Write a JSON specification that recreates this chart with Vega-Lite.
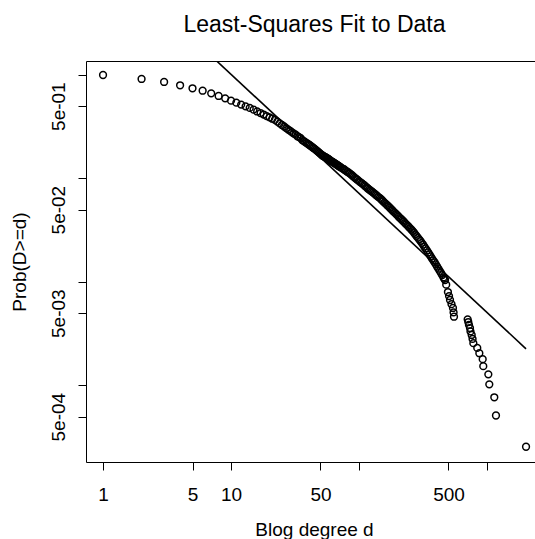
{
  "$schema": "https://vega.github.io/schema/vega-lite/v6.json",
  "width": 449,
  "height": 401,
  "autosize": {"type": "none"},
  "padding": {"left": 86, "top": 61, "right": 0, "bottom": 77},
  "background": "white",
  "config": {
    "view": {"stroke": null},
    "font": "Liberation Sans",
    "axis": {
      "domainColor": "black", "domainWidth": 1, "tickColor": "black", "tickWidth": 1, "tickSize": 8,
      "labelColor": "black", "labelFontSize": 19, "labelFont": "Liberation Sans",
      "titleColor": "black", "titleFontSize": 19, "titleFont": "Liberation Sans", "titleFontWeight": "normal",
      "grid": false, "labelOverlap": false, "labelFlush": false, "labelBound": false
    }
  },
  "title": {
    "text": "Least-Squares Fit to Data",
    "fontSize": 23, "fontWeight": "normal", "font": "Liberation Sans", "color": "black",
    "anchor": "middle", "baseline": "alphabetic", "offset": 6, "dx": 4
  },
  "datasets": {
    "pts": [
      {"d":1,"p":1.0},{"d":2,"p":0.915},{"d":3,"p":0.856},{"d":4,"p":0.795},{"d":5,"p":0.744},
      {"d":6,"p":0.705},{"d":7,"p":0.665},{"d":8,"p":0.627},{"d":9,"p":0.595},{"d":10,"p":0.565},
      {"d":11,"p":0.540},{"d":12,"p":0.518},{"d":13,"p":0.498},{"d":14,"p":0.481},{"d":15,"p":0.462},
      {"d":16,"p":0.444},{"d":17,"p":0.429},{"d":18,"p":0.415},{"d":19,"p":0.401},{"d":20,"p":0.389},
      {"d":21,"p":0.378},{"d":22,"p":0.368},{"d":23,"p":0.354},{"d":24,"p":0.341},{"d":25,"p":0.329},
      {"d":26,"p":0.318},{"d":27,"p":0.307},{"d":28,"p":0.297},{"d":29,"p":0.288},{"d":30,"p":0.279},
      {"d":31,"p":0.2716},{"d":32,"p":0.265},{"d":33,"p":0.2559},{"d":34,"p":0.2507},{"d":35,"p":0.2455},
      {"d":36,"p":0.2350},{"d":37,"p":0.2300},{"d":38,"p":0.2249},{"d":39,"p":0.2201},{"d":40,"p":0.2153},
      {"d":41,"p":0.2107},{"d":42,"p":0.2061},{"d":43,"p":0.2016},{"d":44,"p":0.1972},{"d":45,"p":0.1930},
      {"d":46,"p":0.1888},{"d":47,"p":0.1847},{"d":48,"p":0.1807},{"d":49,"p":0.1768},{"d":50,"p":0.1730},
      {"d":51,"p":0.1695},{"d":52,"p":0.1660},{"d":53,"p":0.1640},{"d":54,"p":0.1620},{"d":55,"p":0.1600},
      {"d":56,"p":0.1579},{"d":57,"p":0.1558},{"d":58,"p":0.1538},{"d":59,"p":0.1510},{"d":60,"p":0.1483},
      {"d":61,"p":0.1465},{"d":62,"p":0.1447},{"d":63,"p":0.1429},{"d":64,"p":0.1412},{"d":65,"p":0.1394},
      {"d":66,"p":0.1377},{"d":67,"p":0.1360},{"d":68,"p":0.1344},{"d":69,"p":0.1327},{"d":70,"p":0.1311},
      {"d":71,"p":0.1295},{"d":72,"p":0.1279},{"d":74,"p":0.1254},{"d":76,"p":0.1230},{"d":77,"p":0.1215},
      {"d":79,"p":0.1186},{"d":81,"p":0.1163},{"d":83,"p":0.1140},{"d":85,"p":0.1114},{"d":87,"p":0.1089},
      {"d":89,"p":0.1063},{"d":91,"p":0.1038},{"d":93,"p":0.1014},{"d":95,"p":0.0991},{"d":97,"p":0.0972},
      {"d":100,"p":0.0944},{"d":102,"p":0.0923},{"d":105,"p":0.0902},{"d":107,"p":0.0881},{"d":110,"p":0.0861},
      {"d":112,"p":0.0840},{"d":115,"p":0.0820},{"d":117,"p":0.0801},{"d":120,"p":0.0783},{"d":123,"p":0.0765},
      {"d":126,"p":0.0748},{"d":129,"p":0.0730},{"d":132,"p":0.0713},{"d":135,"p":0.0697},{"d":138,"p":0.0681},
      {"d":141,"p":0.0665},{"d":145,"p":0.0649},{"d":148,"p":0.0634},{"d":151,"p":0.0619},{"d":154,"p":0.0602},
      {"d":158,"p":0.0585},{"d":162,"p":0.0568},{"d":166,"p":0.0552},{"d":170,"p":0.0537},{"d":174,"p":0.0522},
      {"d":178,"p":0.0507},{"d":182,"p":0.0493},{"d":186,"p":0.0479},{"d":191,"p":0.0466},{"d":195,"p":0.0453},
      {"d":200,"p":0.0440},{"d":204,"p":0.0427},{"d":209,"p":0.0415},{"d":214,"p":0.0404},{"d":219,"p":0.0393},
      {"d":224,"p":0.0382},{"d":229,"p":0.0371},{"d":234,"p":0.0360},{"d":240,"p":0.0350},{"d":245,"p":0.0340},
      {"d":251,"p":0.0330},{"d":257,"p":0.0320},{"d":263,"p":0.0310},{"d":269,"p":0.0299},{"d":275,"p":0.0288},
      {"d":281,"p":0.0278},{"d":288,"p":0.0268},{"d":295,"p":0.0258},{"d":302,"p":0.0249},{"d":309,"p":0.0239},
      {"d":316,"p":0.0230},{"d":323,"p":0.0220},{"d":331,"p":0.0211},{"d":339,"p":0.0202},{"d":347,"p":0.0193},
      {"d":355,"p":0.0185},{"d":363,"p":0.0177},{"d":371,"p":0.0169},{"d":380,"p":0.0162},{"d":389,"p":0.0155},
      {"d":398,"p":0.0148},{"d":407,"p":0.0141},{"d":417,"p":0.01346},{"d":427,"p":0.0128},{"d":437,"p":0.01222},
      {"d":447,"p":0.01164},{"d":457,"p":0.01107},{"d":463,"p":0.01076},{"d":470,"p":0.01045},{"d":480,"p":0.00942},
      {"d":495,"p":0.00800},{"d":505,"p":0.00731},{"d":514,"p":0.00670},{"d":528,"p":0.00611},{"d":542,"p":0.00561},
      {"d":548,"p":0.00508},{"d":552,"p":0.00462},
      {"d":706,"p":0.004359},{"d":714,"p":0.004103},{"d":723,"p":0.003846},{"d":736,"p":0.00359},{"d":743,"p":0.003333},
      {"d":759,"p":0.003077},{"d":771,"p":0.00282},{"d":782,"p":0.002564},{"d":839,"p":0.002308},{"d":871,"p":0.002051},
      {"d":925,"p":0.001795},{"d":935,"p":0.001538},{"d":1024,"p":0.001282},{"d":1042,"p":0.001026},{"d":1140,"p":0.000769},
      {"d":1175,"p":0.000513},{"d":2018,"p":0.000256}
    ],
    "fit": [
      {"d":1,"p":14.35},{"d":2018,"p":0.002262}
    ]
  },
  "layer": [
    {
      "data": {"name": "pts"},
      "mark": {"type": "point", "shape": "circle", "filled": false, "stroke": "black", "strokeWidth": 1.5, "size": 46, "opacity": 1, "clip": true},
      "encoding": {
        "x": {
          "field": "d", "type": "quantitative",
          "scale": {"type": "log", "domain": [0.736, 2371], "nice": false, "zero": false},
          "axis": {
            "orient": "bottom",
            "values": [1, 5, 10, 50, 100, 500, 1000],
            "labelExpr": "datum.value == 100 || datum.value == 1000 ? '' : format(datum.value, 'd')",
            "labelBaseline": "alphabetic", "labelAlign": "center", "labelPadding": 30,
            "title": "Blog degree d", "titleX": 228, "titleY": 73, "titleBaseline": "alphabetic", "titleAlign": "center"
          }
        },
        "y": {
          "field": "p", "type": "quantitative",
          "scale": {"type": "log", "domain": [0.0001823, 1.365], "nice": false, "zero": false},
          "axis": {
            "orient": "left",
            "values": [1, 0.5, 0.1, 0.05, 0.01, 0.005, 0.001, 0.0005],
            "labelExpr": "datum.value == 0.5 ? '5e-01' : datum.value == 0.05 ? '5e-02' : datum.value == 0.005 ? '5e-03' : datum.value == 0.0005 ? '5e-04' : ''",
            "labelAngle": -90, "labelAlign": "center", "labelBaseline": "alphabetic", "labelPadding": 14,
            "title": "Prob(D>=d)", "titleAngle": -90, "titleX": -61, "titleY": 200.5, "titleBaseline": "alphabetic", "titleAlign": "center"
          }
        }
      }
    },
    {
      "data": {"name": "fit"},
      "mark": {"type": "line", "color": "black", "strokeWidth": 1.6, "clip": true},
      "encoding": {
        "x": {
          "field": "d", "type": "quantitative",
          "scale": {"type": "log", "domain": [0.736, 2371], "nice": false, "zero": false},
          "axis": {"orient": "top", "ticks": false, "labels": false, "title": null, "domain": true}
        },
        "y": {
          "field": "p", "type": "quantitative",
          "scale": {"type": "log", "domain": [0.0001823, 1.365], "nice": false, "zero": false}
        }
      }
    }
  ],
  "resolve": {"axis": {"x": "independent"}}
}
